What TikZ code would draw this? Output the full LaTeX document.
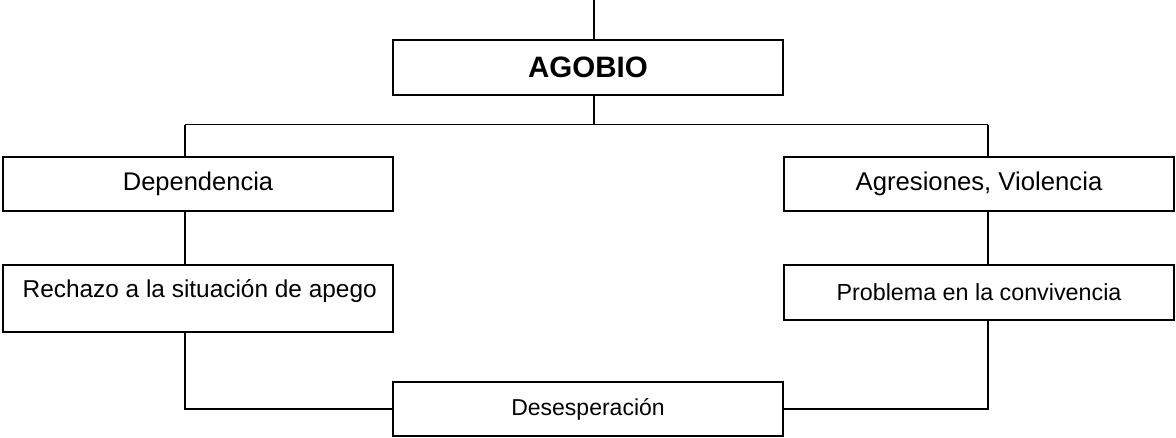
\documentclass[tikz,border=0pt]{standalone}
\usepackage{fontspec}
\setmainfont{Liberation Sans}
\begin{document}
\begin{tikzpicture}[x=1pt,y=-1pt,
  box/.style={draw=black, line width=1.8pt, rectangle, inner sep=0pt, minimum width=390pt},
  conn/.style={draw=black, line width=1.8pt},
  fs/.style={font=\fontsize{#1}{#1}\selectfont}]
\useasboundingbox (0,0) rectangle (1176,437);
\fill[white] (0,0) rectangle (1176,437);

\coordinate (topc) at (594,0);
\coordinate (hl) at (185,124.5);
\coordinate (hm) at (594,124.5);
\coordinate (hr) at (988,124.5);

\node[box, minimum height=55pt, fs=29.5] (agobio) at (588,67.5) {\textbf{AGOBIO}};
\node[box, minimum height=54pt, fs=25.5] (dep) at (198,184) {Dependencia};
\node[box, minimum height=54pt, fs=25.7] (agr) at (979,184) {Agresiones, Violencia};
\node[box, minimum height=67pt] (rech) at (198,298.5) {};
\node[fs=24.4, inner sep=0pt] (rechT) at (199.7,291) {Rechazo a la situación de apego};
\node[box, minimum height=55pt, fs=23.3] (prob) at (979,292.5) {Problema en la convivencia};
\node[box, minimum height=54pt, fs=23] (des) at (588,409) {Desesperación};

\draw[conn] (topc) -- (topc |- agobio.north);
\draw[conn] (agobio.south -| topc) -- (hm);
\draw[conn] (hl) -- (hr);
\draw[conn] (hl) -- (hl |- dep.north);
\draw[conn] (hr) -- (hr |- agr.north);
\draw[conn] (dep.south -| hl) -- (rech.north -| hl);
\draw[conn] (agr.south -| hr) -- (prob.north -| hr);
\draw[conn] (rech.south -| hl) |- (des.west);
\draw[conn] (prob.south -| hr) |- (des.east);
\end{tikzpicture}
\end{document}
